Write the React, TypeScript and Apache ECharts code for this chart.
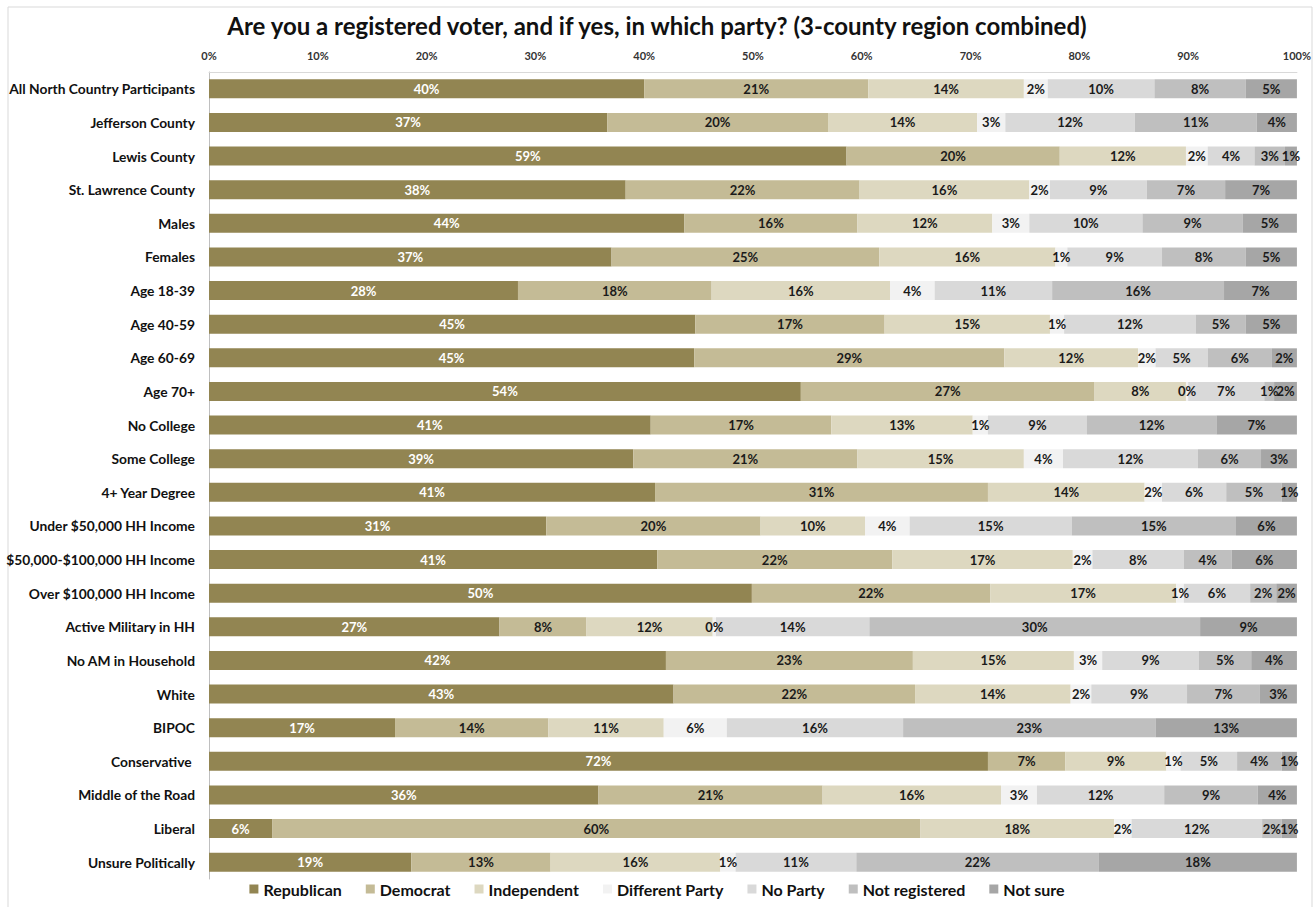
import React, { useEffect, useRef } from "react";
import * as echarts from "echarts";

const categories = [
  "All North Country Participants",
  "Jefferson County",
  "Lewis County",
  "St. Lawrence County",
  "Males",
  "Females",
  "Age 18-39",
  "Age 40-59",
  "Age 60-69",
  "Age 70+",
  "No College",
  "Some College",
  "4+ Year Degree",
  "Under $50,000 HH Income",
  "$50,000-$100,000 HH Income",
  "Over $100,000 HH Income",
  "Active Military in HH",
  "No AM in Household",
  "White",
  "BIPOC",
  "Conservative ",
  "Middle of the Road",
  "Liberal",
  "Unsure Politically",
];

const seriesNames = [
  "Republican",
  "Democrat",
  "Independent",
  "Different Party",
  "No Party",
  "Not registered",
  "Not sure",
];

const republican = [40.0, 36.6, 58.6, 38.3, 43.7, 37.0, 28.4, 44.7, 44.6, 54.4, 40.6, 39.0, 41.0, 31.0, 41.2, 49.9, 26.7, 42.0, 42.7, 17.1, 71.6, 35.8, 5.8, 18.6];
const democrat = [20.6, 20.3, 19.6, 21.5, 15.9, 24.6, 17.8, 17.4, 28.5, 27.0, 16.6, 20.6, 30.6, 19.7, 21.6, 21.9, 8.0, 22.7, 22.2, 14.1, 7.1, 20.6, 59.6, 12.8];
const independent = [14.3, 13.7, 11.6, 15.6, 12.4, 16.2, 16.4, 15.2, 12.3, 8.4, 13.0, 15.3, 14.4, 9.6, 16.6, 17.1, 11.6, 14.8, 14.3, 10.6, 9.3, 16.4, 17.8, 15.6];
const differentParty = [2.2, 2.6, 2.0, 1.9, 3.4, 1.1, 4.1, 1.3, 1.6, 0.2, 1.4, 3.6, 1.6, 4.1, 1.8, 0.7, 0.3, 2.6, 1.9, 5.8, 1.3, 3.3, 1.6, 1.4];
const noParty = [9.8, 11.9, 4.3, 8.9, 10.4, 8.7, 10.8, 12.1, 4.8, 7.0, 9.1, 12.4, 5.9, 14.9, 8.4, 6.1, 14.1, 8.9, 8.8, 16.2, 5.2, 11.7, 12.0, 11.1];
const notRegistered = [8.4, 11.2, 2.8, 7.2, 9.2, 7.7, 15.8, 4.6, 5.9, 0.9, 11.9, 5.8, 5.1, 15.1, 4.4, 2.4, 30.4, 4.8, 6.7, 23.2, 4.1, 8.6, 1.8, 22.3];
const notSure = [4.7, 3.7, 1.1, 6.6, 5.0, 4.7, 6.7, 4.7, 2.3, 2.1, 7.4, 3.3, 1.4, 5.6, 6.0, 1.9, 8.9, 4.2, 3.4, 13.0, 1.4, 3.6, 1.4, 18.2];

const xTicks = [0, 10, 20, 30, 40, 50, 60, 70, 80, 90, 100];

const seriesData = [republican, democrat, independent, differentParty, noParty, notRegistered, notSure];
const colors = ["#928552", "#c4bb96", "#ddd8c0", "#f2f2f2", "#d9d9d9", "#bfbfbf", "#a6a6a6"];
const FONT = "Lato, 'Noto Sans', sans-serif";

export default function App() {
  const ref = useRef<HTMLDivElement>(null);
  useEffect(() => {
    if (!ref.current) return;
    const chart = echarts.init(ref.current, undefined, { renderer: "svg" });
    const option: any = {
      animation: false,
      backgroundColor: "#ffffff",
      textStyle: { fontFamily: FONT },
      title: {
        text: "Are you a registered voter, and if yes, in which party? (3-county region combined)",
        left: "center",
        top: 8,
        textStyle: { fontFamily: FONT, fontSize: 24, fontWeight: "bold", color: "#111" },
      },
      legend: {
        bottom: 5,
        left: "center",
        itemWidth: 9,
        itemHeight: 9,
        itemGap: 24,
        icon: "rect",
        textStyle: { fontFamily: FONT, fontSize: 16, fontWeight: "bold", color: "#111" },
        data: seriesNames,
      },
      grid: { left: 209, right: 17, top: 72, bottom: 28, containLabel: false },
      xAxis: {
        type: "value",
        position: "top",
        min: 0,
        max: 100,
        interval: 10,
        axisLine: { show: true, lineStyle: { color: "#d9d9d9" } },
        axisTick: { show: false },
        splitLine: { show: false },
        axisLabel: {
          fontFamily: FONT,
          fontSize: 11,
          fontWeight: "bold",
          color: "#333",
          margin: 11,
          formatter: (v: number) => (xTicks.includes(v) ? v + "%" : ""),
        },
      },
      yAxis: {
        type: "category",
        inverse: true,
        data: categories,
        axisLine: { show: true, lineStyle: { color: "#bfbfbf" } },
        axisTick: { show: false },
        axisLabel: { fontFamily: FONT, fontSize: 13.8, fontWeight: "bold", color: "#111", margin: 14 },
      },
      series: seriesNames.map((name, i) => ({
        name,
        type: "bar",
        stack: "total",
        barWidth: 19,
        data: seriesData[i],
        itemStyle: { color: colors[i] },
        label: {
          show: true,
          position: "inside",
          fontFamily: FONT,
          fontSize: 13,
          fontWeight: "bold",
          color: i === 0 ? "#ffffff" : "#1a1a1a",
          formatter: (p: any) => Math.round(p.value) + "%",
        },
      })),
      graphic: [
        {
          type: "rect",
          shape: { x: 8, y: 7, width: 1304, height: 920 },
          style: { fill: "none", stroke: "#d9d9d9", lineWidth: 1 },
          silent: true,
        },
      ],
    };
    chart.setOption(option);
    return () => chart.dispose();
  }, []);
  return (
    <div
      ref={ref}
      style={{ position: "absolute", left: 0, top: 0, width: 1314, height: 907 }}
    />
  );
}
